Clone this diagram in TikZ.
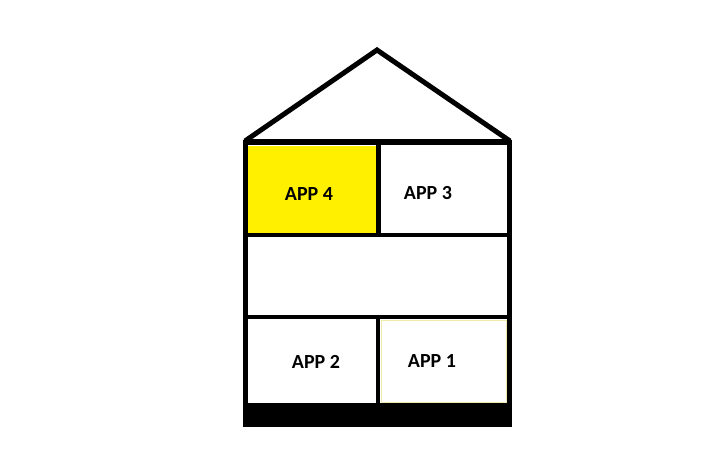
\documentclass[tikz,border=0pt]{standalone}
\usepackage{fontspec}
\setmainfont{Carlito}
\definecolor{appyellow}{RGB}{255,240,0}
\definecolor{paleyellow}{RGB}{240,235,170}
\begin{document}
\begin{tikzpicture}[x=1pt,y=-1pt,
  wall/.style={line width=5pt},
  floor/.style={line width=4.5pt},
  applabel/.style={font=\bfseries\fontsize{20}{24}\selectfont, inner sep=0pt}]
  \useasboundingbox (0,0) rectangle (716,448);
  % yellow flat and its pale neighbour
  \fill[appyellow] (248,146) rectangle (376,233);
  \draw[paleyellow, line width=1pt] (381,320) rectangle (506,402);
  % roof
  \draw[wall, line join=miter] (245,141) -- (377,50) -- (510,141);
  % outer walls and cellar
  \draw[wall] (245.5,142) rectangle (509.5,410);
  \draw[line width=6pt] (245,141.5) -- (510,141.5);
  \fill (243,403) rectangle (512,427);
  % floors
  \draw[floor] (245,235) -- (510,235);
  \draw[floor] (245,317) -- (510,317);
  \draw[wall] (378.5,142) -- (378.5,235);
  \draw[floor] (378,317) -- (378,405);
  % flats
  \node[applabel] (app4) at (309,194) {APP 4};
  \node[applabel] (app3) at (428,193) {APP 3};
  \node[applabel] (app2) at (316,362) {APP 2};
  \node[applabel] (app1) at (432,361) {APP 1};
\end{tikzpicture}
\end{document}
